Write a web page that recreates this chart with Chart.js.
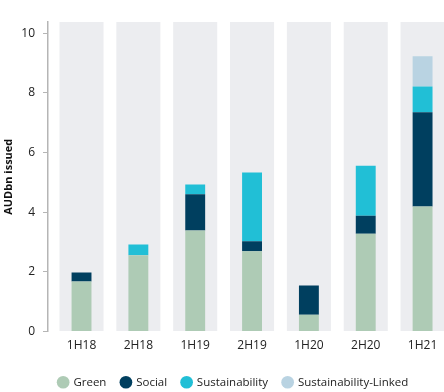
<!DOCTYPE html>
<html>
<head>
<meta charset="utf-8">
<script src="https://cdn.jsdelivr.net/npm/chart.js@4.4.1/dist/chart.umd.min.js"></script>
<style>
  html, body { margin: 0; padding: 0; background: #ffffff; overflow: hidden; }
  #wrap { width: 451px; height: 392px; }
</style>
</head>
<body>
<div id="wrap"><canvas id="c" width="451" height="392"></canvas></div>
<script>
const categories = ['1H18', '2H18', '1H19', '2H19', '1H20', '2H20', '1H21'];
const green = [1.68, 2.56, 3.39, 2.69, 0.56, 3.28, 4.19];
const social = [0.30, 0, 1.21, 0.34, 0.98, 0.60, 3.16];
const sustainability = [0, 0.36, 0.33, 2.30, 0, 1.68, 0.87];
const sustainabilityLinked = [0, 0, 0, 0, 0, 0, 1.01];
const yTicks = [0, 2, 4, 6, 8, 10];
const yMax = 10.38;
const yTitle = 'AUDbn issued';

const FONT = "'Open Sans', 'Noto Sans', sans-serif";
const bandValues = categories.map(() => yMax);

const stackCommon = { xAxisID: 'x', yAxisID: 'y', stack: 's', grouped: false, categoryPercentage: 1, barPercentage: 0.35, order: 0, borderWidth: 0 };

const shiftPlugin = {
  id: 'shift',
  afterLayout(chart) {
    ['x', 'xb'].forEach(id => {
      const s = chart.scales[id];
      s.left += 5.1;
      s.configure();
    });
    if (chart.legend) { chart.legend.left += 8; chart.legend.right += 8; }
  }
};

new Chart(document.getElementById('c'), {
  type: 'bar',
  data: {
    labels: categories,
    datasets: [
      Object.assign({ label: 'Green', data: green, backgroundColor: '#aecbb5' }, stackCommon),
      Object.assign({ label: 'Social', data: social, backgroundColor: '#003f5f' }, stackCommon),
      Object.assign({ label: 'Sustainability', data: sustainability, backgroundColor: '#21bfd6' }, stackCommon),
      Object.assign({ label: 'Sustainability-Linked', data: sustainabilityLinked, backgroundColor: '#b9d3e2' }, stackCommon),
      { label: 'band', data: bandValues, backgroundColor: '#ecedf0', xAxisID: 'xb', yAxisID: 'y', stack: 'b', grouped: false,
        categoryPercentage: 1, barPercentage: 0.775, order: 1, borderWidth: 0 }
    ]
  },
  options: {
    responsive: false,
    animation: false,
    layout: { padding: { top: 22, right: 0, left: 0, bottom: -6 } },
    plugins: {
      tooltip: { enabled: false },
      legend: {
        position: 'bottom',
        labels: {
          filter: (item) => item.text !== 'band',
          usePointStyle: true,
          pointStyle: 'circle',
          boxWidth: 9,
          boxHeight: 9,
          padding: 15,
          color: '#222222',
          font: { family: FONT, size: 11.5 }
        }
      }
    },
    scales: {
      x: {
        stacked: true,
        grid: { display: false, drawTicks: false },
        border: { display: false },
        ticks: { color: '#222222', padding: 7, font: { family: FONT, size: 12 } },
        afterFit: (s) => { s.height = 30; }
      },
      xb: {
        display: false,
        stacked: false,
        labels: categories,
        grid: { display: false }
      },
      y: {
        stacked: true,
        min: 0,
        max: yMax,
        afterBuildTicks: (s) => { s.ticks = yTicks.map(v => ({ value: v })); },
        afterFit: (s) => { s.width = 48; },
        grid: { drawOnChartArea: false, drawTicks: true, tickLength: 5, color: '#b5b5b5', lineWidth: 1 },
        border: { display: true, color: '#b5b5b5', width: 1.5 },
        ticks: { color: '#222222', padding: 8, font: { family: FONT, size: 12 } },
        title: { display: true, text: yTitle, color: '#111111', padding: { top: 2, bottom: 0 },
                 font: { family: FONT, size: 11, weight: 'bold' } }
      }
    }
  },
  plugins: [shiftPlugin]
});
</script>
</body>
</html>
